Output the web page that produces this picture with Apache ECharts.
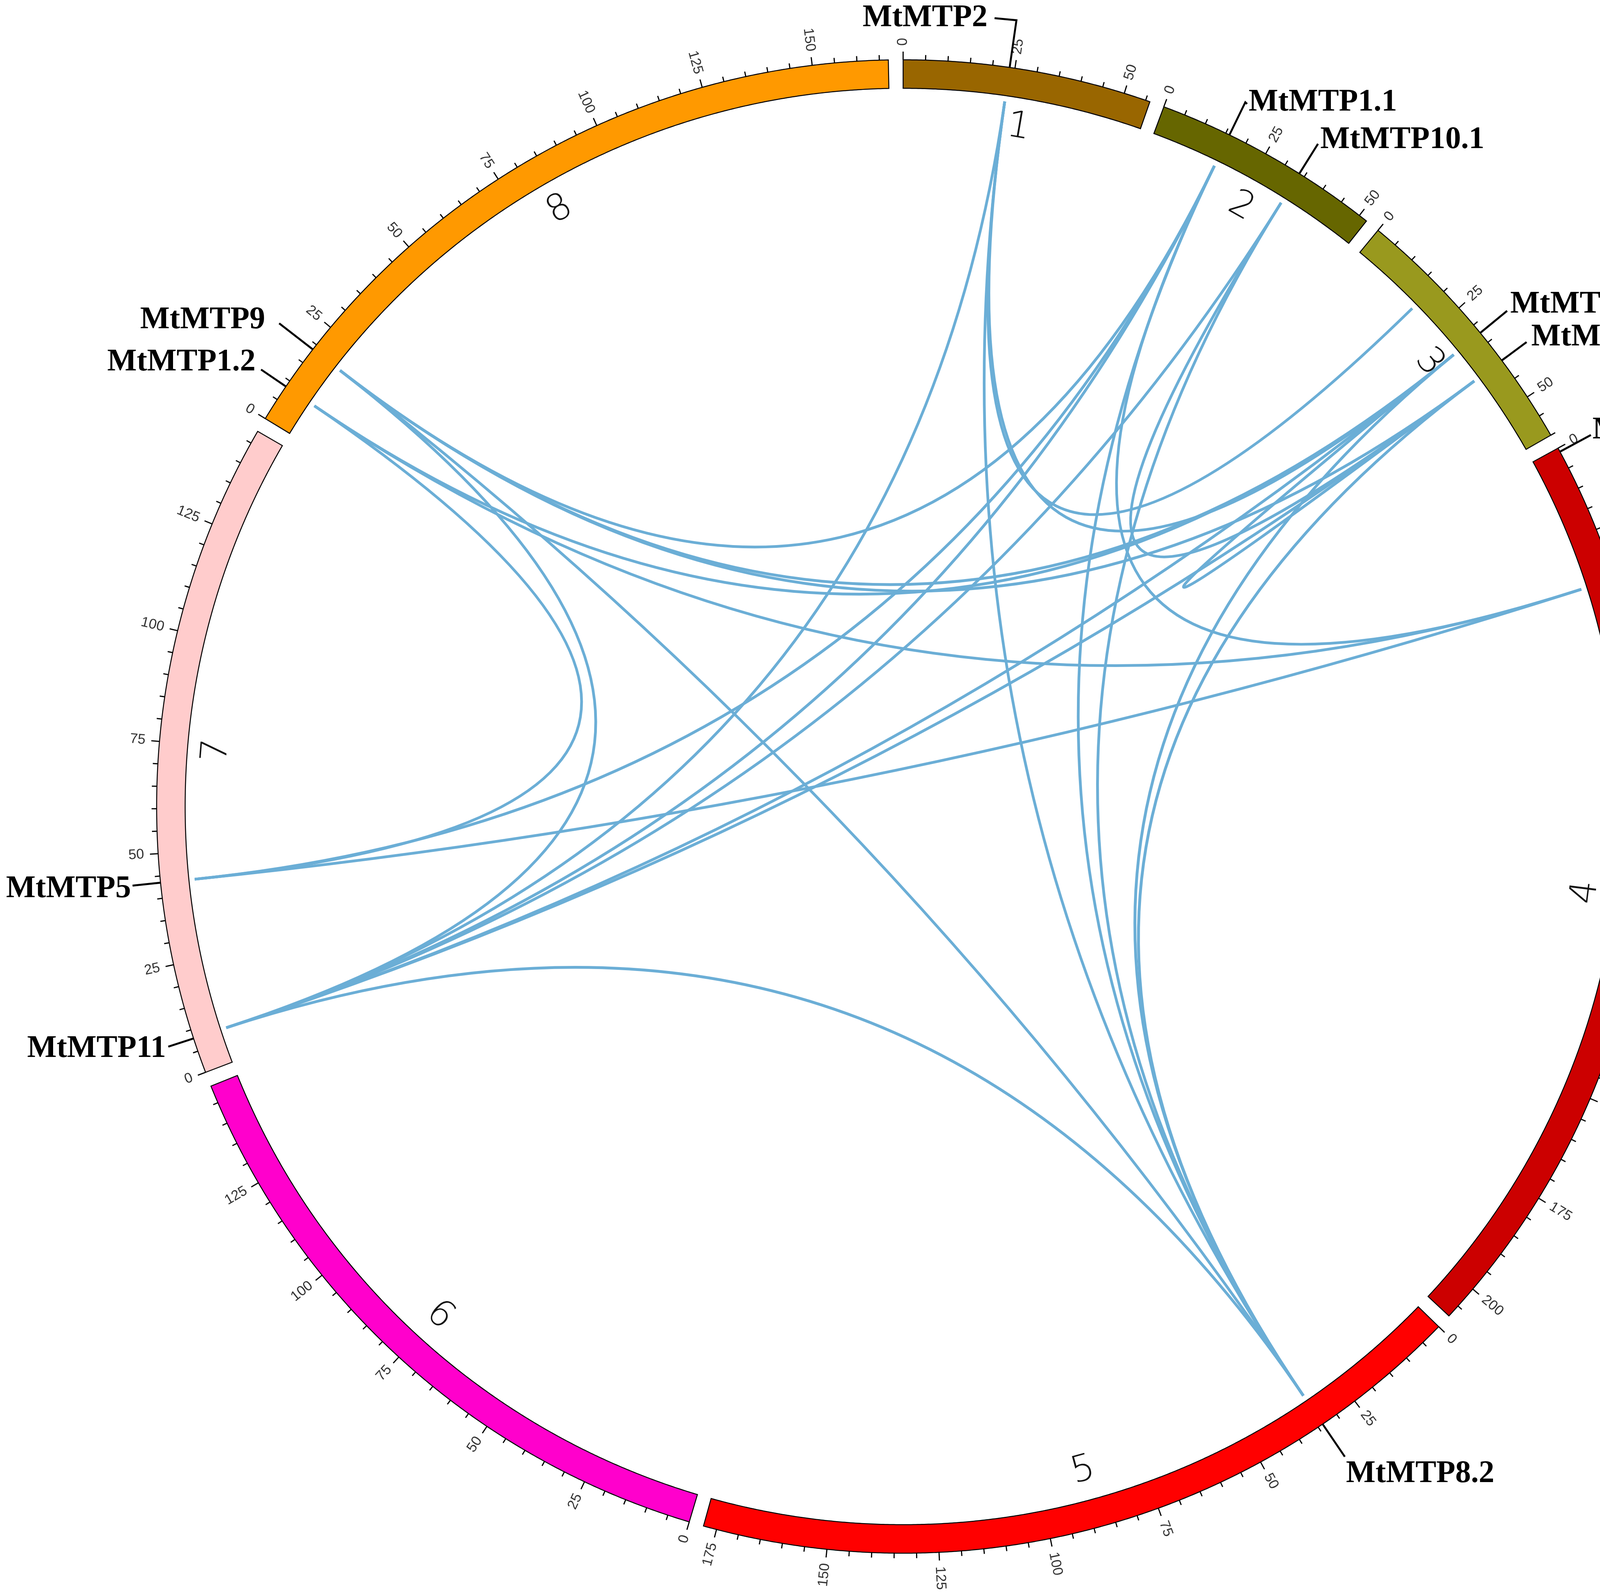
<!DOCTYPE html>
<html>
<head>
<meta charset="utf-8">
<script src="https://cdn.jsdelivr.net/npm/echarts@6/dist/echarts.min.js"></script>
<style>
  html, body { margin: 0; padding: 0; background: #fff; }
  #chart { width: 4550px; height: 4082px; }
</style>
</head>
<body>
<div id="chart"></div>
<script>
// chromosomes (length in the units of the tick scale)
const chromNames = ['1', '2', '3', '4', '5', '6', '7', '8'];
const chromLengths = [56, 52, 60, 208, 178, 149, 148, 167];
const chromColors = ['#996600', '#666600', '#99991e', '#cc0000', '#ff0000', '#ff00cc', '#ffcccc', '#ff9900'];
const chromGap = 3.3;

// gene loci: chromosome index (1-based) and position on it
const geneIds = ['MtMTP2', 'MtMTP1.1', 'MtMTP10.1', 'chr3-18', 'MtMTP8.1', 'MtMTP10.2', 'MtMTP7',
  'MtMTP4', 'MtMTP8.2', 'MtMTP5', 'MtMTP11', 'MtMTP9', 'MtMTP1.2'];
const geneChrom = [1, 2, 2, 3, 3, 3, 4, 4, 5, 7, 7, 8, 8];
const genePos = [23.8, 15.9, 33.7, 17.8, 32.3, 40.1, 0.9, 31.7, 33.8, 43.5, 8.0, 18.7, 8.5];

// duplicated pairs
const linkFrom = ['MtMTP2', 'MtMTP2', 'MtMTP2', 'MtMTP2', 'MtMTP1.1', 'MtMTP1.1', 'MtMTP1.1', 'MtMTP1.1',
  'MtMTP10.1', 'MtMTP10.1', 'MtMTP10.1', 'MtMTP1.1', 'MtMTP8.1', 'MtMTP10.2', 'MtMTP8.1', 'MtMTP8.1',
  'MtMTP10.2', 'MtMTP4', 'MtMTP4', 'MtMTP8.2', 'MtMTP8.2', 'MtMTP5', 'MtMTP11', 'MtMTP9', 'MtMTP9', 'MtMTP1.2'];
const linkTo = ['MtMTP8.2', 'chr3-18', 'MtMTP8.1', 'MtMTP11', 'MtMTP11', 'MtMTP5', 'MtMTP8.2', 'MtMTP9',
  'MtMTP11', 'MtMTP8.2', 'MtMTP10.2', 'MtMTP4', 'MtMTP11', 'MtMTP11', 'MtMTP10.2', 'MtMTP8.2',
  'MtMTP8.2', 'MtMTP5', 'MtMTP1.2', 'MtMTP9', 'MtMTP11', 'MtMTP1.2', 'MtMTP9', 'MtMTP8.1', 'MtMTP10.2', 'MtMTP8.1'];

// tick scale
const tickStep = 5;
const labelStep = 25;

// layout
const R_OUT = 1911, R_IN = 1838, R_LINK = 1823, R_NUM = 1762;
const labelLayout = {
  'MtMTP2':    { r: 2033, shift: -4.6, align: 'right', dx: -18, dy: 0 },
  'MtMTP1.1':  { r: 2004, shift: 0.5, align: 'left', dx: 4, dy: -4 },
  'MtMTP10.1': { r: 2001, shift: 0, align: 'left', dx: 6, dy: -10 },
  'MtMTP8.1':  { r: 2000, shift: 0, align: 'left', dx: 8, dy: -16 },
  'MtMTP10.2': { r: 1990, shift: 0, align: 'left', dx: 12, dy: -12 },
  'MtMTP7':    { r: 2001, shift: 0, align: 'left', dx: 4, dy: -12 },
  'MtMTP4':    { r: 1992, shift: 0, align: 'left', dx: 4, dy: -8 },
  'MtMTP8.2':  { r: 2012, shift: 0, align: 'left', dx: 3, dy: 44 },
  'MtMTP5':    { r: 1983, shift: 0, align: 'right', dx: -4, dy: 9 },
  'MtMTP11':   { r: 1979, shift: 0, align: 'right', dx: -6, dy: 6 },
  'MtMTP9':    { r: 2020, shift: 0, align: 'right', dx: -36, dy: -8 },
  'MtMTP1.2':  { r: 1988, shift: 0, align: 'right', dx: -14, dy: -18 }
};

const chromStart = [];
let acc = 0;
chromLengths.forEach(function (len) { chromStart.push(acc); acc += len + chromGap; });
const TOTAL = acc;

function geneAxisPos(id) {
  const i = geneIds.indexOf(id);
  return chromStart[geneChrom[i] - 1] + genePos[i];
}

// clockwise angle from 12 o'clock, radians
function clockAngle(p, cs) {
  let a = Math.atan2(p[0] - cs.cx, cs.cy - p[1]);
  if (a < 0) a += Math.PI * 2;
  return a;
}

const tickData = [];
chromLengths.forEach(function (len, i) {
  for (let v = 0; v <= len; v += tickStep) {
    tickData.push([R_OUT, chromStart[i] + v, v, v % labelStep === 0 ? 1 : 0]);
  }
});

const chart = echarts.init(document.getElementById('chart'));
chart.setOption({
  animation: false,
  backgroundColor: '#fff',
  polar: { center: [2312, 2064], radius: [0, R_OUT] },
  angleAxis: { type: 'value', min: 0, max: TOTAL, startAngle: 90, clockwise: true, show: false },
  radiusAxis: { type: 'value', min: 0, max: R_OUT, show: false },
  series: [
    // links
    {
      type: 'custom',
      coordinateSystem: 'polar',
      data: linkFrom.map(function (f, k) { return [R_LINK, geneAxisPos(f), geneAxisPos(linkTo[k])]; }),
      renderItem: function (params, api) {
        const p0 = api.coord([R_LINK, api.value(1)]);
        const p1 = api.coord([R_LINK, api.value(2)]);
        const c = api.coord([0, 0]);
        return {
          type: 'bezierCurve',
          shape: { x1: p0[0], y1: p0[1], x2: p1[0], y2: p1[1], cpx1: c[0], cpy1: c[1] },
          style: { stroke: '#6baed6', lineWidth: 7, fill: 'none' }
        };
      }
    },
    // chromosome blocks
    {
      type: 'custom',
      coordinateSystem: 'polar',
      data: chromLengths.map(function (len, i) { return [R_OUT, chromStart[i], chromStart[i] + len, i]; }),
      renderItem: function (params, api) {
        const s = api.value(1), e = api.value(2), i = api.value(3);
        const n = Math.ceil((e - s) / 0.5);
        const pts = [];
        for (let k = 0; k <= n; k++) pts.push(api.coord([R_OUT, s + (e - s) * k / n]));
        for (let k = n; k >= 0; k--) pts.push(api.coord([R_IN, s + (e - s) * k / n]));
        return {
          type: 'polygon',
          shape: { points: pts },
          style: { fill: chromColors[i], stroke: '#000', lineWidth: 2.5 }
        };
      }
    },
    // ticks and tick labels
    {
      type: 'custom',
      coordinateSystem: 'polar',
      data: tickData,
      renderItem: function (params, api) {
        const a = api.value(1), v = api.value(2), major = api.value(3);
        const p0 = api.coord([R_OUT, a]);
        const p1 = api.coord([R_OUT + (major ? 21 : 13), a]);
        const children = [{
          type: 'line',
          shape: { x1: p0[0], y1: p0[1], x2: p1[0], y2: p1[1] },
          style: { stroke: '#000', lineWidth: 3 }
        }];
        if (major) {
          const pl = api.coord([R_OUT + 36, a]);
          const th = clockAngle(pl, params.coordSys);
          const outward = th < Math.PI;
          children.push({
            type: 'text',
            x: pl[0], y: pl[1],
            rotation: outward ? Math.PI / 2 - th : Math.PI * 1.5 - th,
            style: {
              text: String(v), fill: '#333', fontSize: 36,
              fontFamily: "'Liberation Sans', Arial, sans-serif",
              align: outward ? 'left' : 'right', verticalAlign: 'middle'
            }
          });
        }
        return { type: 'group', children: children };
      }
    },
    // chromosome numbers
    {
      type: 'custom',
      coordinateSystem: 'polar',
      data: chromLengths.map(function (len, i) { return [R_NUM, chromStart[i] + len / 2, i]; }),
      renderItem: function (params, api) {
        const p = api.coord([R_NUM, api.value(1)]);
        const th = clockAngle(p, params.coordSys);
        const flip = th >= Math.PI / 2 && th < Math.PI * 1.5;
        return {
          type: 'text',
          x: p[0], y: p[1],
          rotation: flip ? Math.PI - th : -th,
          style: {
            text: chromNames[api.value(2)], fill: '#111', fontSize: 94, fontWeight: 200,
            fontFamily: "'DejaVu Sans', sans-serif", align: 'center', verticalAlign: 'middle'
          }
        };
      }
    },
    // gene labels
    {
      type: 'custom',
      coordinateSystem: 'polar',
      data: geneIds.filter(function (id) { return labelLayout[id]; })
        .map(function (id) { return [R_OUT, geneAxisPos(id), geneIds.indexOf(id)]; }),
      renderItem: function (params, api) {
        const a = api.value(1);
        const id = geneIds[api.value(2)];
        const lay = labelLayout[id];
        const pts = [api.coord([R_OUT, a]), api.coord([lay.r, a])];
        if (lay.shift) pts.push(api.coord([lay.r - 2, a + lay.shift]));
        const end = pts[pts.length - 1];
        return {
          type: 'group',
          children: [{
            type: 'polyline',
            shape: { points: pts },
            style: { stroke: '#000', lineWidth: 5, fill: 'none' }
          }, {
            type: 'text',
            x: end[0] + lay.dx, y: end[1] + lay.dy,
            style: {
              text: id, fill: '#000', fontSize: 80, fontWeight: 'bold',
              fontFamily: "'Liberation Serif', 'Times New Roman', serif",
              align: lay.align, verticalAlign: 'middle'
            }
          }]
        };
      }
    }
  ]
});
</script>
</body>
</html>
